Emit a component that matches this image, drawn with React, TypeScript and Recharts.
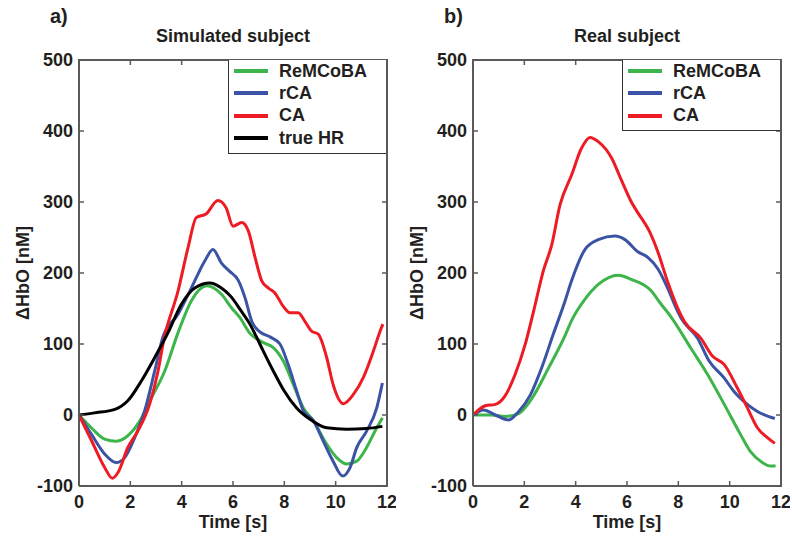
/**
 * Two-panel HbO response comparison (simulated vs real subject).
 */

import { LineChart, Line, XAxis, YAxis } from "recharts";

const FONT = '"Liberation Sans", Arial, Helvetica, sans-serif';
const INK = "#231f20";
const AXIS = "#5a5a5a";

// plot box inside each 396x538 chart
const PLOT_W = 308;
const PLOT_H = 426;

const xTicks = [0, 2, 4, 6, 8, 10, 12];
const yTicks = [-100, 0, 100, 200, 300, 400, 500];

// ---- a) Simulated subject ----
const simRemT = [0, 0.48, 1.0, 1.45, 1.97, 2.36, 2.82, 3.34, 3.86, 4.38, 4.97, 5.55, 5.94, 6.27, 6.66, 7.18, 7.57, 7.96, 8.35, 8.74, 9.13, 9.65, 10.04, 10.43, 10.82, 11.2, 11.6, 11.82];
const simRemV = [0, -18, -34, -37, -27, -9, 24, 62, 116, 161, 182, 170, 151, 137, 115, 102, 95, 76, 43, 10, -8, -41, -60, -69, -65, -46, -18, -4];

const simRcaT = [0, 0.48, 1.0, 1.45, 1.78, 2.17, 2.56, 2.95, 3.27, 3.86, 4.38, 4.9, 5.22, 5.55, 5.85, 6.2, 6.47, 6.73, 7.05, 7.44, 7.83, 8.15, 8.48, 8.74, 9.13, 9.52, 9.9, 10.27, 10.56, 10.82, 11.2, 11.6, 11.82];
const simRcaV = [0, -27, -55, -67, -60, -32, 6, 62, 110, 142, 179, 217, 233, 214, 203, 190, 165, 132, 117, 110, 100, 71, 34, 6, -8, -37, -65, -86, -74, -46, -23, 10, 45];

const simCaT = [0, 0.5, 1.0, 1.3, 1.52, 1.9, 2.3, 2.75, 3.08, 3.3, 3.86, 4.25, 4.57, 4.95, 5.41, 5.73, 6.0, 6.34, 6.6, 6.86, 7.12, 7.37, 7.63, 7.96, 8.22, 8.54, 8.8, 9.06, 9.32, 9.65, 9.9, 10.3, 10.69, 11.08, 11.47, 11.73, 11.84];
const simCaV = [0, -37, -74, -89, -81, -46, -22, 15, 62, 105, 175, 236, 278, 283, 302, 292, 266, 271, 259, 222, 189, 179, 172, 153, 144, 144, 132, 118, 114, 81, 43, 16, 29, 53, 90, 118, 128];

const simHrT = [0, 0.6, 1.4, 1.9, 2.43, 2.95, 3.47, 3.99, 4.51, 5.09, 5.55, 5.94, 6.27, 6.66, 6.9, 7.18, 7.57, 7.96, 8.48, 9.0, 9.65, 10.43, 11.2, 11.82];
const simHrV = [0, 3, 8, 20, 48, 81, 116, 156, 179, 186, 179, 166, 149, 128, 111, 90, 62, 36, 10, -6, -18, -20, -19, -16];

// ---- b) Real subject ----
const realRemT = [0, 0.7, 1.25, 1.78, 2.29, 2.94, 3.59, 3.84, 4.36, 4.88, 5.66, 6.17, 6.94, 7.33, 7.72, 8.49, 9.14, 9.79, 10.43, 10.82, 11.2, 11.6, 11.79];
const realRemV = [0, 0, -2, 2, 23, 66, 112, 133, 163, 184, 197, 191, 175, 156, 138, 94, 57, 15, -28, -52, -65, -72, -72];

const realRcaT = [0, 0.41, 0.87, 1.39, 1.78, 2.23, 2.68, 3.13, 3.59, 3.84, 4.36, 4.88, 5.53, 5.92, 6.42, 6.81, 7.2, 7.58, 7.91, 8.1, 8.75, 9.2, 9.79, 10.17, 10.69, 11.08, 11.76];
const realRcaV = [0, 7, 0, -7, 5, 28, 67, 114, 161, 189, 233, 247, 252, 247, 230, 222, 206, 179, 151, 137, 108, 76, 52, 33, 15, 5, -5];

const realCaT = [0, 0.48, 0.87, 1.25, 1.64, 2.03, 2.36, 2.74, 3.07, 3.39, 3.84, 4.23, 4.56, 4.88, 5.4, 5.79, 6.17, 6.42, 6.87, 7.2, 7.58, 7.97, 8.23, 8.88, 9.33, 9.79, 10.3, 10.69, 11.08, 11.47, 11.76];
const realCaV = [0, 13, 15, 27, 57, 99, 146, 203, 240, 296, 338, 376, 391, 385, 362, 330, 300, 285, 259, 230, 188, 151, 132, 108, 83, 71, 38, 10, -18, -32, -40];

const rows = (t: number[], v: number[]) => t.map((x, i) => ({ t: x, v: v[i] }));

interface Series {
  name: string;
  color: string;
  data: { t: number; v: number }[];
}

const GREEN = "#3db54a";
const BLUE = "#3a53a4";
const RED = "#ed1c24";
const BLACK = "#000000";

const simSeries: Series[] = [
  { name: "ReMCoBA", color: GREEN, data: rows(simRemT, simRemV) },
  { name: "rCA", color: BLUE, data: rows(simRcaT, simRcaV) },
  { name: "CA", color: RED, data: rows(simCaT, simCaV) },
  { name: "true HR", color: BLACK, data: rows(simHrT, simHrV) },
];

const realSeries: Series[] = [
  { name: "ReMCoBA", color: GREEN, data: rows(realRemT, realRemV) },
  { name: "rCA", color: BLUE, data: rows(realRcaT, realRcaV) },
  { name: "CA", color: RED, data: rows(realCaT, realCaV) },
];

// bottom tick: label + mirrored inward tick on the top edge
const XTick = ({ x, y, payload }: any) => {
  const axisY = y - 9;
  return (
    <g>
      <line x1={x} x2={x} y1={axisY - PLOT_H} y2={axisY - PLOT_H + 5} stroke={AXIS} strokeWidth={1.5} />
      <text x={x} y={y} dy="0.72em" textAnchor="middle" fontSize={18} fontWeight={700} fill={INK} fontFamily={FONT}>
        {payload.value}
      </text>
    </g>
  );
};

// left tick: label + mirrored inward tick on the right edge
const YTick = ({ x, y, payload }: any) => {
  const axisX = x + 6;
  return (
    <g>
      <line x1={axisX + PLOT_W} x2={axisX + PLOT_W - 5} y1={y} y2={y} stroke={AXIS} strokeWidth={1.5} />
      <text x={x} y={y} dy="0.36em" textAnchor="end" fontSize={18} fontWeight={700} fill={INK} fontFamily={FONT}>
        {payload.value}
      </text>
    </g>
  );
};

function Panel({
  left,
  tag,
  title,
  series,
}: {
  left: number;
  tag: string;
  title: string;
  series: Series[];
}) {
  // plot area inside the 396px wide chart: x 79..387, y 60..486
  return (
    <div style={{ position: "absolute", left, top: 0, width: 396, height: 538 }}>
      <LineChart width={396} height={538} margin={{ top: 60, right: 9, bottom: 22, left: 0 }}>
        <XAxis
          dataKey="t"
          type="number"
          domain={[0, 12]}
          ticks={xTicks}
          interval={0}
          height={30}
          tick={<XTick />}
          tickSize={-5}
          tickMargin={14}
          axisLine={{ stroke: AXIS, strokeWidth: 2 }}
          tickLine={{ stroke: AXIS, strokeWidth: 1.5 }}
        />
        <YAxis
          type="number"
          domain={[-100, 500]}
          ticks={yTicks}
          interval={0}
          width={79}
          tick={<YTick />}
          tickSize={-5}
          tickMargin={11}
          axisLine={{ stroke: AXIS, strokeWidth: 2 }}
          tickLine={{ stroke: AXIS, strokeWidth: 1.5 }}
        />
        {series.map((s) => (
          <Line
            key={s.name}
            data={s.data}
            dataKey="v"
            name={s.name}
            type="monotone"
            stroke={s.color}
            strokeWidth={3}
            dot={false}
            isAnimationActive={false}
          />
        ))}
      </LineChart>

      {/* top and right edges of the axes box */}
      <div
        style={{
          position: "absolute",
          left: 78,
          top: 59,
          width: PLOT_W + 2,
          height: PLOT_H + 2,
          borderTop: `2px solid ${AXIS}`,
          borderRight: `2px solid ${AXIS}`,
          boxSizing: "border-box",
          pointerEvents: "none",
        }}
      />

      <div style={{ position: "absolute", left: 50, top: 5, fontSize: 20, fontWeight: 700, color: INK }}>{tag}</div>
      <div
        style={{
          position: "absolute",
          left: 79,
          width: PLOT_W,
          top: 26,
          textAlign: "center",
          fontSize: 18,
          fontWeight: 700,
          color: INK,
        }}
      >
        {title}
      </div>
      <div
        style={{
          position: "absolute",
          left: 79,
          width: PLOT_W,
          top: 512,
          textAlign: "center",
          fontSize: 18,
          fontWeight: 700,
          color: INK,
        }}
      >
        Time [s]
      </div>
      <div
        style={{
          position: "absolute",
          left: 23 - 70,
          top: 273 - 11,
          width: 140,
          height: 22,
          lineHeight: "22px",
          textAlign: "center",
          transform: "rotate(-90deg)",
          fontSize: 18,
          fontWeight: 700,
          color: INK,
          whiteSpace: "nowrap",
        }}
      >
        ΔHbO [nM]
      </div>

      <div
        style={{
          position: "absolute",
          left: 228,
          top: 60,
          width: 158,
          height: series.length * 22.4 + 4,
          border: "1.5px solid #333",
          borderRight: "none",
          borderTop: "none",
          boxSizing: "border-box",
          background: "#fff",
        }}
      >
        {series.map((s, i) => (
          <div
            key={s.name}
            style={{ position: "absolute", left: 0, top: 0 + i * 22.4, height: 22, display: "flex", alignItems: "center" }}
          >
            <div style={{ width: 34, height: 4, background: s.color, marginLeft: 5 }} />
            <span style={{ marginLeft: 11, fontSize: 18, fontWeight: 700, color: INK }}>{s.name}</span>
          </div>
        ))}
      </div>
    </div>
  );
}

export default function App() {
  return (
    <div
      style={{
        position: "absolute",
        left: 0,
        top: 0,
        width: 792,
        height: 538,
        background: "#fff",
        fontFamily: FONT,
        overflow: "hidden",
      }}
    >
      <Panel left={0} tag="a)" title="Simulated subject" series={simSeries} />
      <Panel left={394} tag="b)" title="Real subject" series={realSeries} />
    </div>
  );
}
